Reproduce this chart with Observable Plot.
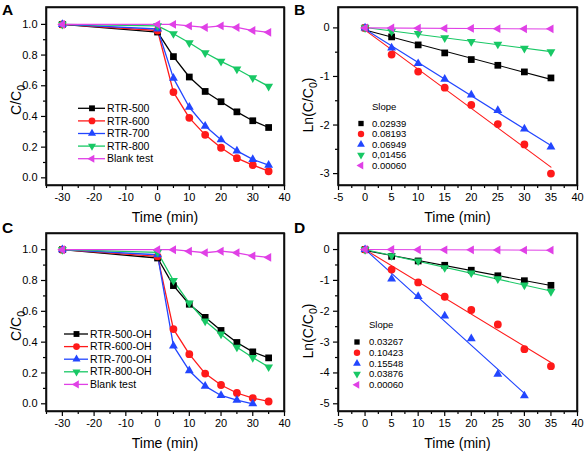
<!DOCTYPE html>
<html><head><meta charset="utf-8">
<script src="https://cdn.jsdelivr.net/npm/d3@7"></script>
<script src="https://cdn.jsdelivr.net/npm/@observablehq/plot@0.6"></script>
<style>
body{margin:0;background:#fff;}
#wrap{position:relative;width:584px;height:453px;font-family:"Liberation Sans",Arial,sans-serif;overflow:hidden;}
.panel{position:absolute;}
.letter{position:absolute;font-weight:bold;font-size:15.5px;line-height:1;color:#000;}
</style></head><body><div id="wrap"></div>
<script>
// ---------- data ----------
const timeC = [-30, 0, 5, 10, 15, 20, 25, 30, 35];
const timeLn = [0, 5, 10, 15, 20, 25, 30, 35];

const namesA = ["RTR-500", "RTR-600", "RTR-700", "RTR-800", "Blank test"];
const a500 = [1.0, 0.95, 0.79, 0.657, 0.563, 0.496, 0.43, 0.372, 0.328];
const a600 = [1.0, 0.96, 0.559, 0.391, 0.28, 0.196, 0.128, 0.083, 0.043];
const a700 = [1.0, 0.97, 0.65, 0.46, 0.337, 0.248, 0.176, 0.12, 0.083];
const a800 = [1.0, 0.99, 0.939, 0.88, 0.815, 0.759, 0.709, 0.652, 0.596];
const aBlank = [1.0, 1.0, 1.0, 0.99, 0.98, 0.99, 0.98, 0.96, 0.948];

const slopesB = ["0.02939", "0.08193", "0.06949", "0,01456", "0.00060"];
const b500 = [0, -0.185, -0.35, -0.515, -0.652, -0.77, -0.906, -1.03];
const b600 = [0, -0.55, -0.90, -1.23, -1.585, -1.98, -2.40, -3.0];
const b700 = [0, -0.41, -0.734, -1.057, -1.38, -1.70, -2.08, -2.45];
const b800 = [0, -0.07, -0.117, -0.206, -0.28, -0.336, -0.42, -0.494];
const bBlank = [0, 0, -0.005, -0.01, -0.01, -0.015, -0.02, -0.02];

const namesC = ["RTR-500-OH", "RTR-600-OH", "RTR-700-OH", "RTR-800-OH", "Blank test"];
const c500 = [1.0, 0.946, 0.767, 0.646, 0.561, 0.476, 0.398, 0.337, 0.298];
const c600 = [1.0, 0.957, 0.485, 0.322, 0.196, 0.122, 0.07, 0.037, 0.015];
const c700 = [1.0, 0.967, 0.376, 0.215, 0.115, 0.054, 0.024, 0.0];
const c800 = [1.0, 0.983, 0.80, 0.654, 0.537, 0.452, 0.367, 0.30, 0.239];
const cBlank = [1.0, 1.0, 1.0, 0.99, 0.98, 0.99, 0.98, 0.96, 0.95];

const slopesD = ["0.03267", "0.10423", "0.15548", "0.03876", "0.00060"];
const d500 = [0, -0.22, -0.37, -0.51, -0.67, -0.85, -1.01, -1.16];
const d600 = [0, -0.65, -1.065, -1.53, -1.96, -2.43, -3.23, -3.78];
const d700 = [0, -0.95, -1.52, -2.15, -2.89, -4.04, -4.74];
const d800 = [0, -0.2, -0.37, -0.59, -0.76, -0.95, -1.15, -1.36];
const dBlank = [0, 0, -0.005, -0.01, -0.01, -0.015, -0.02, -0.02];

const xTicksC = [-30, -20, -10, 0, 10, 20, 30, 40];
const xMinorC = [-35, -25, -15, -5, 5, 15, 25, 35];
const yTicksC = [0, 0.2, 0.4, 0.6, 0.8, 1.0];
const yMinorC = [0.1, 0.3, 0.5, 0.7, 0.9];
const xTicksLn = [-5, 0, 5, 10, 15, 20, 25, 30, 35, 40];
const xMinorLn = [-2.5, 2.5, 7.5, 12.5, 17.5, 22.5, 27.5, 32.5, 37.5];
const yTicksB = [-3, -2, -1, 0];
const yMinorB = [-2.5, -1.5, -0.5];
const yTicksD = [-5, -4, -3, -2, -1, 0];
const yMinorD = [-4.5, -3.5, -2.5, -1.5, -0.5];

// ---------- styles ----------
const colors = ["#000000", "#ff1a1a", "#2246ff", "#18c865", "#e040e6"];
function triangle(angle) {
  return {draw(ctx, size) {
    const R = Math.sqrt(size / (3 * Math.sqrt(3) / 4));
    for (let k = 0; k < 3; k++) {
      const a = angle + k * 2 * Math.PI / 3;
      const px = R * Math.cos(a), py = R * Math.sin(a);
      if (k === 0) ctx.moveTo(px, py); else ctx.lineTo(px, py);
    }
    ctx.closePath();
  }};
}
const square = {draw(ctx, size) { const s = Math.sqrt(size) / 2; ctx.moveTo(-s, -s); ctx.lineTo(s, -s); ctx.lineTo(s, s); ctx.lineTo(-s, s); ctx.closePath(); }};
const circle = {draw(ctx, size) { const r = Math.sqrt(size / Math.PI); ctx.moveTo(r, 0); ctx.arc(0, 0, r, 0, 2 * Math.PI); }};
const symbols = [square, circle, triangle(-Math.PI / 2), triangle(Math.PI / 2), triangle(Math.PI)];
const radii = [3.8, 3.9, 3.3, 3.3, 3.3];
const FONT = "Liberation Sans, Arial, sans-serif";

const wrap = document.getElementById("wrap");

function makePanel(o) {
  const marks = [];
  o.series.forEach((ys, i) => {
    const rows = ys.map((v, j) => ({x: o.x[j], y: v}));
    if (o.fit) marks.push(Plot.linearRegressionY(rows, {x: "x", y: "y", stroke: colors[i], strokeWidth: 1.1, ci: 0}));
    else marks.push(Plot.line(rows, {x: "x", y: "y", stroke: colors[i], strokeWidth: 1.3}));
  });
  o.series.forEach((ys, i) => {
    const rows = ys.map((v, j) => ({x: o.x[j], y: v}));
    marks.push(Plot.dot(rows, {x: "x", y: "y", symbol: symbols[i], fill: colors[i], r: radii[i]}));
  });
  marks.push(
    Plot.frame({stroke: "#000", strokeWidth: 1.5}),
    Plot.axisX(o.xTicks, {tickSize: 5, tickPadding: 3, fontSize: 11, tickFormat: d => String(d), label: null, strokeWidth: 1.2}),
    Plot.axisX(o.xMinor, {tickSize: 3, tickFormat: () => "", label: null, strokeWidth: 1.2}),
    Plot.axisY(o.yTicks, {tickSize: 5, tickPadding: 4, fontSize: 11, tickFormat: o.yFmt, label: null, strokeWidth: 1.2}),
    Plot.axisY(o.yMinor, {tickSize: 3, tickFormat: () => "", label: null, strokeWidth: 1.2})
  );
  const svg = Plot.plot({
    width: 292, height: o.height,
    marginLeft: 46, marginRight: o.mr, marginTop: 7, marginBottom: o.height - 185,
    x: {domain: o.xDomain},
    y: {domain: o.yDomain},
    style: {fontFamily: FONT, fontSize: "11px", color: "#000", background: "transparent", overflow: "visible"},
    marks
  });
  const s = d3.select(svg);
  // frame box from the plot's own scale ranges
  const xr = svg.scale("x").range, yr = svg.scale("y").range;
  s.append("rect").attr("x", Math.min(...xr)).attr("y", Math.min(...yr))
    .attr("width", Math.abs(xr[1] - xr[0])).attr("height", Math.abs(yr[1] - yr[0]))
    .attr("fill", "none").attr("stroke", "#111").attr("stroke-width", 1.6);
  // axis titles
  const fx = (46 + 292 - o.mr) / 2;
  s.append("text").attr("x", fx).attr("y", 222).attr("text-anchor", "middle")
    .attr("font-size", 14).attr("font-family", FONT).text("Time (min)");
  const yl = s.append("text").attr("transform", `translate(21,${o.ylY}) rotate(-90)`)
    .attr("text-anchor", "middle").attr("font-size", 14).attr("font-family", FONT);
  yl.append("tspan").text(o.ylPre);
  yl.append("tspan").attr("font-size", 10.5).attr("dy", 3.5).text("0");
  if (o.ylPost) yl.append("tspan").attr("dy", -3.5).text(o.ylPost);
  // legend
  const lg = s.append("g").attr("font-family", FONT).attr("text-anchor", "start");
  const L = o.legend;
  if (L.title) lg.append("text").attr("x", L.tx).attr("y", L.titleY).attr("dy", "0.35em")
    .attr("text-anchor", "start").attr("font-size", L.fs).text(L.title);
  L.labels.forEach((t, i) => {
    const y = L.y0 + i * L.dy;
    if (L.line) lg.append("line").attr("x1", L.lx1).attr("x2", L.lx2).attr("y1", y).attr("y2", y)
      .attr("stroke", colors[i]).attr("stroke-width", 1.3);
    lg.append("path").attr("transform", `translate(${L.mx},${y})`)
      .attr("d", d3.symbol(symbols[i], Math.PI * L.r[i] * L.r[i])()).attr("fill", colors[i]);
    lg.append("text").attr("x", L.tx).attr("y", y).attr("dy", "0.35em")
      .attr("text-anchor", "start").attr("font-size", L.fs).text(t);
  });
  svg.setAttribute("class", "panel");
  svg.style.left = o.left + "px";
  svg.style.top = o.top + "px";
  wrap.appendChild(svg);
}

const fmt1 = d3.format(".1f");
const fmtInt = d => String(d);

makePanel({
  left: 0, top: 0, height: 226, mr: 8, x: timeC,
  series: [a500, a600, a700, a800, aBlank], fit: false,
  xDomain: [-35, 40], yDomain: [-0.05, 1.11],
  xTicks: xTicksC, xMinor: xMinorC, yTicks: yTicksC, yMinor: yMinorC, yFmt: fmt1,
  ylPre: "C/C", ylPost: null, ylY: 100,
  legend: {line: true, labels: namesA, lx1: 78, lx2: 105, mx: 92, tx: 107, y0: 108.3, dy: 12.6, fs: 10.5, r: [3.3, 3.4, 3.0, 3.0, 3.0]}
});
makePanel({
  left: 292, top: 0, height: 226, mr: 7, x: timeLn,
  series: [b500, b600, b700, b800, bBlank], fit: true,
  xDomain: [-5, 40], yDomain: [-3.245, 0.42],
  xTicks: xTicksLn, xMinor: xMinorLn, yTicks: yTicksB, yMinor: yMinorB, yFmt: fmtInt,
  ylPre: "Ln(C/C", ylPost: ")", ylY: 105,
  legend: {line: false, title: "Slope", titleY: 106.3, labels: slopesB, mx: 69, tx: 80, y0: 123.5, dy: 10.5, fs: 9.5, r: [3.0, 3.2, 2.9, 2.9, 2.9]}
});
makePanel({
  left: 0, top: 226, height: 227, mr: 8, x: timeC,
  series: [c500, c600, c700, c800, cBlank], fit: false,
  xDomain: [-35, 40], yDomain: [-0.05, 1.105],
  xTicks: xTicksC, xMinor: xMinorC, yTicks: yTicksC, yMinor: yMinorC, yFmt: fmt1,
  ylPre: "C/C", ylPost: null, ylY: 100,
  legend: {line: true, labels: namesC, lx1: 64, lx2: 88, mx: 76.5, tx: 90, y0: 108, dy: 12.6, fs: 10.5, r: [3.3, 3.4, 3.0, 3.0, 3.0]}
});
makePanel({
  left: 292, top: 226, height: 227, mr: 7, x: timeLn,
  series: [d500, d600, d700, d800, dBlank], fit: true,
  xDomain: [-5, 40], yDomain: [-5.25, 0.52],
  xTicks: xTicksLn, xMinor: xMinorLn, yTicks: yTicksD, yMinor: yMinorD, yFmt: fmtInt,
  ylPre: "Ln(C/C", ylPost: ")", ylY: 105,
  legend: {line: false, title: "Slope", titleY: 99, labels: slopesD, mx: 65, tx: 77, y0: 116, dy: 10.7, fs: 9.5, r: [3.0, 3.2, 2.9, 2.9, 2.9]}
});

[["A", 2, 1.5], ["B", 294, 1.5], ["C", 2, 219.5], ["D", 294, 219.5]].forEach(([t, x, y]) => {
  const d = document.createElement("div");
  d.className = "letter"; d.textContent = t;
  d.style.left = x + "px"; d.style.top = y + "px";
  wrap.appendChild(d);
});
</script></body></html>
